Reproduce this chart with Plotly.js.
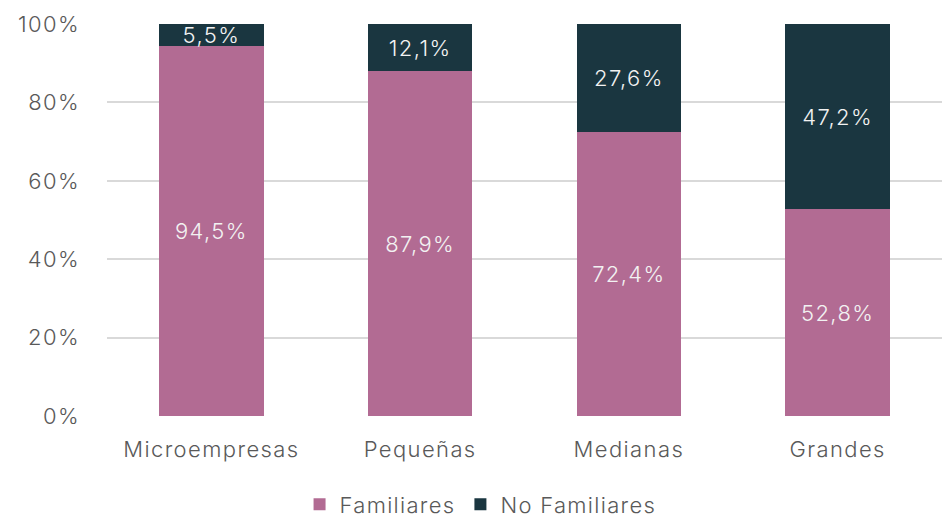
<!DOCTYPE html>
<html>
<head>
<meta charset="utf-8">
<script src="https://cdn.plot.ly/plotly-3.0.1.min.js"></script>
<style>
  html, body { margin: 0; padding: 0; background: #fff; }
  #plot { width: 942px; height: 519px; }
  #plot .xtick text, #plot .ytick text, #plot .bartext { letter-spacing: 1.4px; }
  #plot .legendtext, #js-plotly-tester .legendtext { letter-spacing: 1.3px; }
</style>
</head>
<body>
<div id="plot"></div>
<script>
var categorias = ["Microempresas", "Pequeñas", "Medianas", "Grandes"];
var familiares = [94.5, 87.9, 72.4, 52.8];
var noFamiliares = [5.5, 12.1, 27.6, 47.2];

var fuente = "Inter, 'Noto Sans', sans-serif";

var trace1 = {
    x: categorias,
    y: familiares,
    name: "Familiares",
    type: "bar",
    marker: {color: "#B26B93"},
    texttemplate: "%{y:.1f}%",
    textposition: "inside",
    insidetextanchor: "middle",
    constraintext: "none",
    textfont: {color: "#F2F2F2", size: 22, family: fuente, weight: 300},
    hoverinfo: "skip"
};
var trace2 = {
    x: categorias,
    y: noFamiliares,
    name: "No Familiares",
    type: "bar",
    marker: {color: "#1A3640"},
    texttemplate: "%{y:.1f}%",
    textposition: "inside",
    insidetextanchor: "middle",
    constraintext: "none",
    textfont: {color: "#F2F2F2", size: 22, family: fuente, weight: 300},
    hoverinfo: "skip"
};
var data = [trace1, trace2];

var layout = {
    width: 942,
    height: 519,
    barmode: "stack",
    bargap: 0.5,
    separators: ",.",
    margin: {l: 107, r: 0, t: 24, b: 103, autoexpand: false},
    paper_bgcolor: "#fff",
    plot_bgcolor: "#fff",
    font: {family: fuente, color: "#595959", size: 22, weight: 300},
    xaxis: {
        type: "category",
        showgrid: false,
        showline: false,
        ticks: "",
        tickfont: {size: 22, color: "#595959", weight: 300},
        ticklabelstandoff: 18
    },
    yaxis: {
        range: [0, 100],
        dtick: 20,
        ticksuffix: "%",
        showline: false,
        zeroline: false,
        gridcolor: "#D9D9D9",
        gridwidth: 2,
        tickfont: {size: 22, color: "#595959", weight: 300},
        ticklabelstandoff: 26
    },
    legend: {
        orientation: "h",
        xref: "container",
        x: 0.318,
        xanchor: "left",
        yref: "container",
        y: 0.028,
        yanchor: "middle",
        font: {size: 22, color: "#595959", weight: 300},
        itemwidth: 30,
        traceorder: "normal"
    },
    showlegend: true
};

Plotly.newPlot("plot", data, layout, {displayModeBar: false, staticPlot: true});
</script>
</body>
</html>
